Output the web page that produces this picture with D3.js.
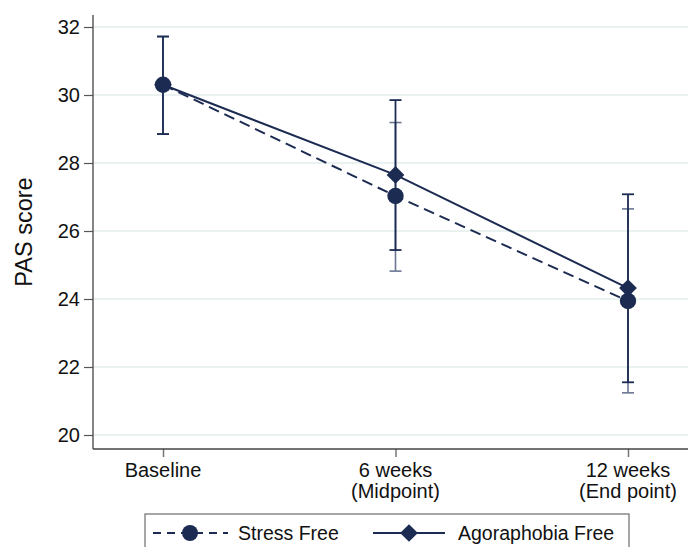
<!DOCTYPE html>
<html>
<head>
<meta charset="utf-8">
<script src="https://cdn.jsdelivr.net/npm/d3@7"></script>
<style>
  body { margin: 0; background: #fff; }
  svg { font-family: "Liberation Sans", Arial, sans-serif; }
</style>
</head>
<body>
<svg id="chart" width="688" height="547"></svg>
<script>
// time points (two-line labels)
const timePoints = ["Baseline", "6 weeks", "12 weeks"];
const timeSub = ["", "(Midpoint)", "(End point)"];
const yTicks = [20, 22, 24, 26, 28, 30, 32];

// Stress Free arm
const stressMean = [30.3, 27.03, 23.94];
const stressLow = [28.85, 24.82, 21.24];
const stressHigh = [31.72, 29.19, 26.65];

// Agoraphobia Free arm
const agoraMean = [30.3, 27.65, 24.32];
const agoraLow = [28.85, 25.44, 21.55];
const agoraHigh = [31.72, 29.85, 27.08];

const navy = "#1c2b52";
const grid = "#e3eded";

const svg = d3.select("#chart");

// plot area
const plotLeft = 93, plotBottom = 449, plotRight = 688, plotTop = 15;

var x = d3.scalePoint().domain(timePoints).range([163, 628]);
var y = d3.scaleLinear().domain([20, 32]).range([435, 27]);

// gridlines
svg.append("g")
  .selectAll("line")
  .data(yTicks)
  .enter()
  .append("line")
  .attr("x1", plotLeft)
  .attr("x2", plotRight)
  .attr("y1", (d) => y(d))
  .attr("y2", (d) => y(d))
  .attr("stroke", grid)
  .attr("stroke-width", 1.5);

// Y axis
var yAxis = svg.append("g")
  .attr("transform", "translate(" + plotLeft + ",0)")
  .call(d3.axisLeft(y).tickValues(yTicks).tickSize(9).tickPadding(4).tickFormat(d3.format("d")));
yAxis.select(".domain").remove();
yAxis.selectAll(".tick line").attr("stroke", "#555").attr("stroke-width", 1.2);
yAxis.selectAll(".tick text")
  .attr("font-size", "20px")
  .attr("font-family", "Liberation Sans, Arial, sans-serif")
  .attr("fill", "#111");

svg.append("line")
  .attr("x1", plotLeft).attr("x2", plotLeft)
  .attr("y1", plotTop).attr("y2", plotBottom)
  .attr("stroke", "#444").attr("stroke-width", 1.3);

// X axis
var xAxis = svg.append("g")
  .attr("transform", "translate(0," + plotBottom + ")")
  .call(d3.axisBottom(x).tickSize(8).tickFormat(""));
xAxis.select(".domain").remove();
xAxis.selectAll(".tick line").attr("stroke", "#777").attr("stroke-width", 1.5);

svg.append("line")
  .attr("x1", plotLeft).attr("x2", plotRight)
  .attr("y1", plotBottom).attr("y2", plotBottom)
  .attr("stroke", "#444").attr("stroke-width", 1.3);

svg.append("g")
  .selectAll("text")
  .data(timePoints)
  .enter()
  .append("text")
  .attr("x", (d) => x(d))
  .attr("y", 477)
  .attr("text-anchor", "middle")
  .attr("font-size", "20px")
  .attr("fill", "#111")
  .text((d) => d);

svg.append("g")
  .selectAll("text")
  .data(timePoints)
  .enter()
  .append("text")
  .attr("x", (d) => x(d))
  .attr("y", 498)
  .attr("text-anchor", "middle")
  .attr("font-size", "20px")
  .attr("fill", "#111")
  .text((d, i) => timeSub[i]);

// Y title
svg.append("text")
  .attr("transform", "translate(32,232)rotate(-90)")
  .attr("text-anchor", "middle")
  .attr("font-size", "23.5px")
  .attr("fill", "#111")
  .text("PAS score");

// error bars
function errorBars(low, high, color, width) {
  var g = svg.append("g").attr("stroke", color).attr("stroke-width", width);
  timePoints.forEach(function (t, i) {
    g.append("line")
      .attr("x1", x(t)).attr("x2", x(t))
      .attr("y1", y(low[i])).attr("y2", y(high[i]));
    [low[i], high[i]].forEach(function (v) {
      g.append("line")
        .attr("x1", x(t) - 6).attr("x2", x(t) + 6)
        .attr("y1", y(v)).attr("y2", y(v));
    });
  });
}
errorBars(stressLow, stressHigh, "#6b7693", 1.6);
errorBars(agoraLow, agoraHigh, navy, 1.8);

var line = d3.line()
  .x((d, i) => x(timePoints[i]))
  .y((d) => y(d));

svg.append("path")
  .datum(stressMean)
  .attr("fill", "none")
  .attr("stroke", navy)
  .attr("stroke-width", 2)
  .attr("stroke-dasharray", "11,6")
  .attr("d", line);

svg.append("path")
  .datum(agoraMean)
  .attr("fill", "none")
  .attr("stroke", navy)
  .attr("stroke-width", 2)
  .attr("d", line);

// markers
svg.append("g")
  .selectAll("circle")
  .data(stressMean)
  .enter()
  .append("circle")
  .attr("cx", (d, i) => x(timePoints[i]))
  .attr("cy", (d) => y(d))
  .attr("r", 8.2)
  .attr("fill", navy);

var diamond = d3.symbol().type(d3.symbolDiamond2).size(200);
svg.append("g")
  .selectAll("path")
  .data(agoraMean)
  .enter()
  .append("path")
  .attr("d", diamond)
  .attr("transform", (d, i) => "translate(" + x(timePoints[i]) + "," + y(d) + ")")
  .attr("fill", navy);

// legend
var legend = svg.append("g");
legend.append("rect")
  .attr("x", 145).attr("y", 514)
  .attr("width", 484).attr("height", 60)
  .attr("fill", "#fff")
  .attr("stroke", "#777")
  .attr("stroke-width", 1.3);

legend.append("line")
  .attr("x1", 153).attr("x2", 228)
  .attr("y1", 533).attr("y2", 533)
  .attr("stroke", navy).attr("stroke-width", 2)
  .attr("stroke-dasharray", "8,6");
legend.append("circle")
  .attr("cx", 190).attr("cy", 533).attr("r", 8)
  .attr("fill", navy);
legend.append("text")
  .attr("x", 238).attr("y", 540)
  .attr("font-size", "19.5px")
  .attr("fill", "#111")
  .text("Stress Free");

legend.append("line")
  .attr("x1", 373).attr("x2", 445)
  .attr("y1", 533).attr("y2", 533)
  .attr("stroke", navy).attr("stroke-width", 2);
legend.append("path")
  .attr("d", diamond)
  .attr("transform", "translate(409,533)")
  .attr("fill", navy);
legend.append("text")
  .attr("x", 458).attr("y", 540)
  .attr("font-size", "19.5px")
  .attr("fill", "#111")
  .text("Agoraphobia Free");
</script>
</body>
</html>
